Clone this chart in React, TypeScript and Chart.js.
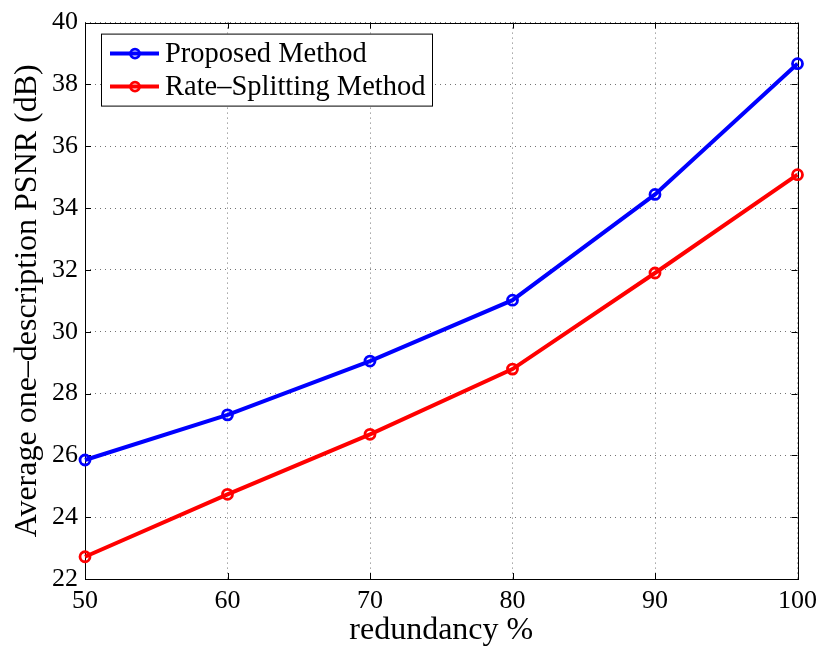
import { useEffect, useRef } from "react";
import { Chart, registerables } from "chart.js";

Chart.register(...registerables);

const redundancy = [50, 60, 70, 80, 90, 100];
const proposedPSNR = [25.85, 27.31, 29.05, 31.02, 34.44, 38.67];
const rateSplittingPSNR = [22.72, 24.74, 26.68, 28.79, 31.9, 35.08];
const seriesNames = ["Proposed Method", "Rate\u2013Splitting Method"];
const seriesColors = ["#0000ff", "#ff0000"];
const xTitle = "redundancy %";
const yTitle = "Average one\u2013description PSNR (dB)";

const FONT = "'Liberation Serif', 'Times New Roman', serif";

const boxPlugin = {
  id: "matlabBox",
  beforeDatasetsDraw(chart: any) {
    const { ctx, chartArea: a, scales } = chart;
    ctx.save();
    ctx.strokeStyle = "#000";
    ctx.lineWidth = 1;
    ctx.setLineDash([]);
    const tl = 6;
    ctx.beginPath();
    scales.x.ticks.forEach((t: any) => {
      const px = Math.round(scales.x.getPixelForValue(t.value)) + 0.5;
      ctx.moveTo(px, a.bottom);
      ctx.lineTo(px, a.bottom - tl);
      ctx.moveTo(px, a.top);
      ctx.lineTo(px, a.top + tl);
    });
    scales.y.ticks.forEach((t: any) => {
      const py = Math.round(scales.y.getPixelForValue(t.value)) + 0.5;
      ctx.moveTo(a.left, py);
      ctx.lineTo(a.left + tl, py);
      ctx.moveTo(a.right, py);
      ctx.lineTo(a.right - tl, py);
    });
    ctx.stroke();
    ctx.strokeRect(Math.round(a.left) + 0.5, Math.round(a.top) + 0.5, Math.round(a.right - a.left), Math.round(a.bottom - a.top));
    ctx.restore();
  },
};

const legendPlugin = {
  id: "matlabLegend",
  afterDraw(chart: any) {
    const { ctx, chartArea: a } = chart;
    const bx = a.left + 16;
    const by = a.top + 11;
    const bw = 331;
    const bh = 72;
    ctx.save();
    ctx.fillStyle = "#fff";
    ctx.fillRect(bx, by, bw, bh);
    ctx.strokeStyle = "#000";
    ctx.lineWidth = 1;
    ctx.strokeRect(bx + 0.5, by + 0.5, bw, bh);
    ctx.font = `28.5px ${FONT}`;
    ctx.textBaseline = "middle";
    ctx.textAlign = "left";
    chart.data.datasets.forEach((ds: any, i: number) => {
      const cy = by + 20 + i * 33;
      ctx.strokeStyle = ds.borderColor;
      ctx.lineWidth = 4;
      ctx.beginPath();
      ctx.moveTo(bx + 9, cy);
      ctx.lineTo(bx + 58, cy);
      ctx.stroke();
      ctx.lineWidth = 2.8;
      ctx.beginPath();
      ctx.arc(bx + 34, cy, 4.5, 0, Math.PI * 2);
      ctx.stroke();
      ctx.fillStyle = "#000";
      ctx.fillText(ds.label, bx + 64, cy + 1);
    });
    ctx.restore();
  },
};

export default function App() {
  const ref = useRef<HTMLCanvasElement | null>(null);
  useEffect(() => {
    if (!ref.current) return;
    const mk = (vals: number[]) => redundancy.map((x, i) => ({ x, y: vals[i] }));
    const chart = new Chart(ref.current, {
      type: "line",
      data: {
        datasets: [proposedPSNR, rateSplittingPSNR].map((vals, i) => ({
          label: seriesNames[i],
          data: mk(vals),
          borderColor: seriesColors[i],
          backgroundColor: "rgba(0,0,0,0)",
          borderWidth: 4,
          pointRadius: 5,
          pointBorderWidth: 2.8,
          pointBackgroundColor: "rgba(0,0,0,0)",
          pointBorderColor: seriesColors[i],
          tension: 0,
          clip: false as any,
        })),
      },
      options: {
        animation: false,
        responsive: true,
        maintainAspectRatio: false,
        layout: { padding: { top: 20, right: 25, left: 0, bottom: 0 } },
        plugins: { legend: { display: false }, tooltip: { enabled: false } },
        scales: {
          x: {
            type: "linear",
            min: 50,
            max: 100,
            afterFit: (s: any) => {
              s.height = 70;
            },
            ticks: {
              stepSize: 10,
              padding: 7,
              color: "#000",
              font: { family: FONT, size: 26 },
              maxRotation: 0,
            },
            grid: { drawTicks: false, color: "rgba(0,0,0,0.55)", lineWidth: 1 },
            border: { display: false, dash: [1, 4] },
            title: {
              display: true,
              text: xTitle,
              color: "#000",
              font: { family: FONT, size: 32, lineHeight: 1 },
              padding: { top: 0, bottom: 2 },
            },
          },
          y: {
            type: "linear",
            min: 22,
            max: 40,
            afterFit: (s: any) => {
              s.width = 85;
            },
            ticks: {
              stepSize: 2,
              padding: 7,
              color: "#000",
              font: { family: FONT, size: 26 },
            },
            grid: { drawTicks: false, color: "rgba(0,0,0,0.55)", lineWidth: 1 },
            border: { display: false, dash: [1, 4] },
            title: {
              display: true,
              text: yTitle,
              color: "#000",
              font: { family: FONT, size: 32 },
              padding: { top: 8, bottom: 0 },
            },
          },
        },
      },
      plugins: [boxPlugin, legendPlugin],
    } as any);
    return () => chart.destroy();
  }, []);
  return (
    <div style={{ position: "fixed", left: 0, top: 0, width: 824, height: 649, background: "#fff" }}>
      <canvas ref={ref} />
    </div>
  );
}
